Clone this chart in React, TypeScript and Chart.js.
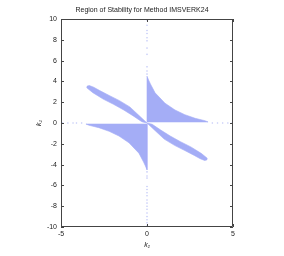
import React, { useEffect, useRef } from "react";
import { Chart, registerables } from "chart.js";

Chart.register(...registerables);

const TITLE = "Region of Stability for Method IMSVERK24";
const X_TITLE = "k\u2081";
const Y_TITLE = "k\u2082";
const X_TICKS = [-5, 0, 5];
const Y_TICKS = [-10, -8, -6, -4, -2, 0, 2, 4, 6, 8, 10];

// Upper-left leaf outline (k1, k2)
const leafUL_k1 = [0, -0.4, -1.0, -1.6, -2.2, -2.75, -3.1, -3.35, -3.48, -3.5, -3.15, -2.55, -1.95, -1.35, -0.8, -0.3, 0];
const leafUL_k2 = [0, 0.62, 1.55, 2.15, 2.65, 3.12, 3.44, 3.6, 3.55, 3.38, 2.92, 2.3, 1.8, 1.25, 0.68, 0.12, 0];
// Lower-right leaf outline
const leafLR_k1 = [0, 0.4, 1.0, 1.6, 2.2, 2.75, 3.1, 3.35, 3.48, 3.5, 3.15, 2.55, 1.95, 1.35, 0.8, 0.3, 0];
const leafLR_k2 = [0, -0.62, -1.55, -2.15, -2.65, -3.12, -3.44, -3.6, -3.55, -3.38, -2.92, -2.3, -1.8, -1.25, -0.68, -0.12, 0];
// Upper-right region outline
const regUR_k1 = [0, 0, 0.1, 0.2, 0.47, 1.05, 1.63, 2.2, 2.8, 3.37, 3.55, 0];
const regUR_k2 = [0.1, 4.5, 4.1, 3.75, 2.9, 1.9, 1.25, 0.8, 0.45, 0.22, 0.1, 0.1];
// Lower-left region outline
const regLL_k1 = [0, 0, -0.1, -0.2, -0.47, -1.05, -1.63, -2.2, -2.8, -3.37, -3.55, 0];
const regLL_k2 = [-0.1, -4.5, -4.1, -3.75, -2.9, -1.9, -1.25, -0.8, -0.45, -0.22, -0.1, -0.1];
// Sparse points along the axes
const axisV_k2 = [9.9, 9.4, 8.9, 8.6, 8.2, 7.9, 7.2, 6.6, 5.4, 5.0, 4.7, -4.7, -5.1, -5.3, -6.1, -6.4, -6.7, -7.0, -7.4, -7.7, -8.0, -8.3, -8.65, -9.0, -9.3, -9.6, -9.9];
const axisH_k1 = [-4.9, -4.6, -4.3, -4.1, -3.8, 3.8, 4.1, 4.4, 4.7, 4.95];

const FILL = "#a4adf6";
const DOT = "#c3c9f7";

const pts = (xs: number[], ys: number[]) => xs.map((x, i) => ({ x, y: ys[i] }));

const framePlugin = {
  id: "frame",
  afterDatasetsDraw(chart: any) {
    const { ctx, chartArea: a, scales } = chart;
    ctx.save();
    ctx.strokeStyle = "#444444";
    ctx.lineWidth = 1;
    ctx.beginPath();
    ctx.rect(a.left + 0.5, a.top + 0.5, a.right - a.left - 1, a.bottom - a.top - 1);
    const L = 3;
    X_TICKS.forEach((v) => {
      const px = Math.round(scales.x.getPixelForValue(v)) + 0.5;
      ctx.moveTo(px, a.top);
      ctx.lineTo(px, a.top + L);
      ctx.moveTo(px, a.bottom);
      ctx.lineTo(px, a.bottom - L);
    });
    Y_TICKS.forEach((v) => {
      const py = Math.round(scales.y.getPixelForValue(v)) + 0.5;
      ctx.moveTo(a.left, py);
      ctx.lineTo(a.left + L, py);
      ctx.moveTo(a.right, py);
      ctx.lineTo(a.right - L, py);
    });
    ctx.stroke();
    ctx.restore();
  },
};

export default function App() {
  const ref = useRef<HTMLCanvasElement | null>(null);
  useEffect(() => {
    if (!ref.current) return;
    const font = { family: "'Liberation Sans', Arial, sans-serif", size: 7 };
    const poly = (xs: number[], ys: number[]) => ({
      type: "line" as const,
      data: pts(xs, ys),
      showLine: true,
      fill: "shape",
      backgroundColor: FILL,
      borderColor: FILL,
      borderWidth: 0.6,
      pointRadius: 0,
      tension: 0,
    });
    const chart = new Chart(ref.current, {
      type: "scatter",
      data: {
        datasets: [
          poly(leafUL_k1, leafUL_k2),
          poly(leafLR_k1, leafLR_k2),
          poly(regUR_k1, regUR_k2),
          poly(regLL_k1, regLL_k2),
          {
            data: axisV_k2.map((y) => ({ x: 0, y })),
            pointRadius: 0.8,
            pointBorderWidth: 0,
            backgroundColor: DOT,
            borderColor: DOT,
          },
          {
            data: axisH_k1.map((x) => ({ x, y: 0 })),
            pointRadius: 0.8,
            pointBorderWidth: 0,
            backgroundColor: DOT,
            borderColor: DOT,
          },
        ] as any,
      },
      options: {
        animation: false,
        responsive: false,
        devicePixelRatio: 1,
        layout: { padding: 0 },
        plugins: {
          legend: { display: false },
          tooltip: { enabled: false },
          title: {
            display: true,
            text: TITLE,
            color: "#222222",
            font: { ...font, weight: "normal" },
            padding: { top: 5.5, bottom: 5.1 },
          },
        },
        scales: {
          x: {
            type: "linear",
            min: -5,
            max: 5,
            afterFit: (s: any) => {
              s.height = 29;
            },
            afterBuildTicks: (s: any) => {
              s.ticks = X_TICKS.map((v) => ({ value: v }));
            },
            grid: { display: false, drawTicks: false },
            border: { display: false },
            ticks: { color: "#222222", font, padding: 3, maxRotation: 0 },
            title: {
              display: true,
              text: X_TITLE,
              color: "#222222",
              font: { ...font, style: "italic" },
              padding: { top: 0, bottom: 6.6 },
            },
          },
          y: {
            type: "linear",
            position: "left",
            min: -10,
            max: 10,
            afterFit: (s: any) => {
              s.width = 61;
            },
            afterBuildTicks: (s: any) => {
              s.ticks = Y_TICKS.map((v) => ({ value: v }));
            },
            grid: { display: false, drawTicks: false },
            border: { display: false },
            ticks: { color: "#222222", font, padding: 4 },
            title: {
              display: true,
              text: Y_TITLE,
              color: "#222222",
              font: { ...font, style: "italic" },
              padding: { top: 34.6, bottom: 0 },
            },
          },
          yRight: {
            type: "linear",
            position: "right",
            min: -10,
            max: 10,
            afterFit: (s: any) => {
              s.width = 51;
            },
            grid: { display: false, drawTicks: false },
            border: { display: false },
            ticks: { display: false },
          },
        },
      } as any,
      plugins: [framePlugin],
    });
    return () => chart.destroy();
  }, []);
  return (
    <div style={{ position: "fixed", left: 0, top: 0, width: 284, height: 256, background: "#ffffff" }}>
      <canvas ref={ref} width={284} height={256} style={{ width: 284, height: 256, display: "block" }} />
    </div>
  );
}
